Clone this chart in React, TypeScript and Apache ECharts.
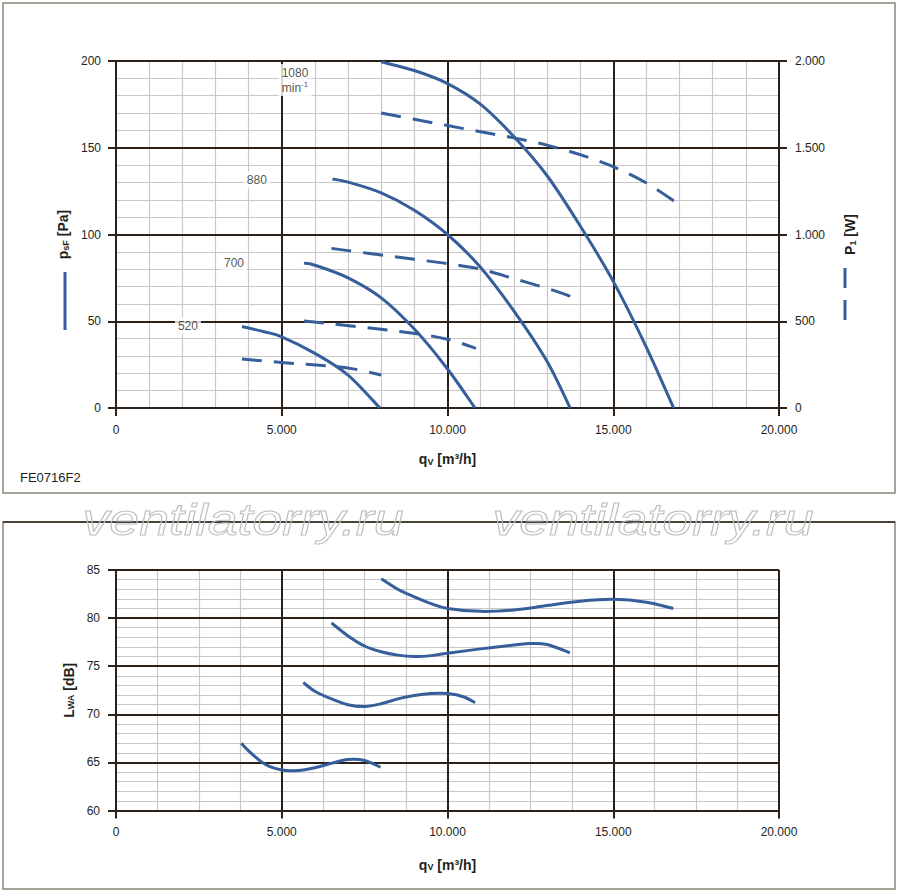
import React, { useEffect, useRef } from 'react';
import * as echarts from 'echarts';

// fan curves: [q_V m³/h, value]
const psf1080 = [[8000, 199.5], [9000, 194.5], [10000, 187], [11000, 175], [12000, 156.5], [13000, 134], [14000, 105], [15000, 73], [16000, 35], [16820, 0]];
const psf880 = [[6530, 132], [7000, 130.2], [8000, 124], [9000, 114], [10000, 100], [11000, 81], [12000, 56], [13000, 27], [13700, 0]];
const psf700 = [[5670, 83.5], [6000, 82.3], [7000, 75], [8000, 63.5], [9000, 45.5], [10000, 22.5], [10830, 0]];
const psf520 = [[3800, 47], [4500, 43.8], [5000, 41], [6000, 31.5], [7000, 19], [7960, 0]];

const pw1080 = [[8000, 1700], [9000, 1664], [10000, 1628], [11000, 1592], [12000, 1557], [13000, 1515], [14000, 1460], [15000, 1391], [16000, 1297], [16860, 1189]];
const pw880 = [[6500, 920], [7000, 907], [8000, 882], [9000, 857], [10000, 832], [11000, 800], [12000, 746], [13000, 690], [13750, 642]];
const pw700 = [[5670, 501], [6500, 485], [7500, 464], [8500, 442], [9500, 416], [10200, 386], [10860, 344]];
const pw520 = [[3800, 282], [4500, 270], [5500, 255], [6500, 241], [7200, 224], [8000, 190]];

const lwa1080 = [[8000, 84.1], [8500, 83.0], [9000, 82.2], [9500, 81.5], [10000, 81.0], [11000, 80.7], [12000, 80.85], [13000, 81.3], [14000, 81.75], [15000, 81.95], [16000, 81.65], [16810, 81.0]];
const lwa880 = [[6500, 79.5], [7000, 78.15], [7500, 77.1], [8000, 76.5], [8500, 76.15], [9000, 76.0], [9500, 76.1], [10000, 76.35], [11000, 76.8], [12000, 77.2], [12500, 77.35], [13000, 77.25], [13690, 76.4]];
const lwa700 = [[5650, 73.3], [6000, 72.4], [6500, 71.6], [7000, 71.0], [7500, 70.8], [8000, 71.1], [8500, 71.6], [9000, 71.95], [9500, 72.15], [10000, 72.15], [10500, 71.8], [10830, 71.2]];
const lwa520 = [[3780, 67], [4000, 66.2], [4500, 64.8], [5000, 64.2], [5500, 64.15], [6000, 64.45], [6500, 64.9], [7000, 65.3], [7500, 65.2], [7980, 64.5]];

const speedNames = ['1080\nmin{sup|-1}', '880', '700', '520'];
const speedLabelPos = [[5400, 189], [4250, 131.4], [3560, 83.6], [2170, 47.3]];

const FONT = '"Liberation Sans", Arial, sans-serif';
const DARK = '#2b2118';
const MINOR = '#c8c8c8';
const TXT = '#231f20';
const BLUE = '#355e9b';
const FRAME = '#8c877c';

const dots = (v: number) => String(v).replace(/\B(?=(\d{3})+(?!\d))/g, '.');

// Catmull-Rom through the pixel points, as cubic beziers
const curvePath = (pts: number[][]) => {
  let d = `M${pts[0][0]},${pts[0][1]}`;
  for (let i = 0; i < pts.length - 1; i++) {
    const p0 = pts[Math.max(i - 1, 0)];
    const p1 = pts[i];
    const p2 = pts[i + 1];
    const p3 = pts[Math.min(i + 2, pts.length - 1)];
    const c1x = p1[0] + (p2[0] - p0[0]) / 6;
    const c1y = p1[1] + (p2[1] - p0[1]) / 6;
    const c2x = p2[0] - (p3[0] - p1[0]) / 6;
    const c2y = p2[1] - (p3[1] - p1[1]) / 6;
    d += ` C${c1x},${c1y} ${c2x},${c2y} ${p2[0]},${p2[1]}`;
  }
  return d;
};

const nameRich = {
  b: { fontWeight: 'bold', fontSize: 14, color: TXT, fontFamily: FONT, lineHeight: 20, verticalAlign: 'bottom' },
  s: { fontWeight: 'bold', fontSize: 9, color: TXT, fontFamily: FONT, lineHeight: 10, verticalAlign: 'bottom' },
};

const minorAxis = (gridIndex: number, position: string, min: number, max: number, interval: number, split: number) => ({
  gridIndex, position, type: 'value', min, max, interval, z: 0,
  axisLine: { show: false }, axisTick: { show: false }, axisLabel: { show: false },
  splitLine: { show: false },
  minorTick: { show: false, splitNumber: split },
  minorSplitLine: { show: true, lineStyle: { color: MINOR, width: 1.2 } },
});

const majorAxis = (gridIndex: number, position: string, min: number, max: number, interval: number, fmt: (v: number) => string) => ({
  gridIndex, position, type: 'value', min, max, interval, z: 1,
  axisLine: { show: true, onZero: false, lineStyle: { color: DARK, width: 2 } },
  axisTick: { show: true, length: 8, lineStyle: { color: DARK, width: 2 } },
  axisLabel: { margin: 16, color: TXT, fontSize: 12, fontFamily: FONT, formatter: fmt },
  splitLine: { show: true, lineStyle: { color: DARK, width: 2 } },
});

const App: React.FC = () => {
  const chartRef = useRef<HTMLDivElement>(null);

  useEffect(() => {
    document.body.style.margin = '0';
    if (!chartRef.current) return;
    const chart = echarts.init(chartRef.current, undefined, { renderer: 'svg' });

    const curve = (data: number[][], x: number, y: number, dash?: number[]) => ({
      type: 'custom', coordinateSystem: 'cartesian2d', xAxisIndex: x, yAxisIndex: y,
      data, encode: { x: 0, y: 1 }, silent: true, z: 3, clip: false,
      renderItem: (params: any, api: any) => {
        if (params.dataIndex !== 0) return null;
        const pts = data.map((p) => api.coord(p));
        return {
          type: 'path',
          shape: { pathData: curvePath(pts) },
          style: { fill: 'none', stroke: BLUE, lineWidth: 3, lineDash: dash || null, lineCap: 'butt' },
        };
      },
    });

    const option: any = {
      animation: false,
      textStyle: { fontFamily: FONT },
      grid: [
        { left: 116, top: 61, width: 663, height: 347 },
        { left: 116, top: 570, width: 663, height: 240.5 },
      ],
      xAxis: [
        minorAxis(0, 'bottom', 0, 20000, 5000, 5),
        {
          ...majorAxis(0, 'bottom', 0, 20000, 5000, dots),
          name: '{b|q}{s|V}{b| [m³/h]}', nameLocation: 'middle', nameGap: 38,
          nameTextStyle: { rich: nameRich },
        },
        minorAxis(1, 'bottom', 0, 20000, 5000, 4),
        {
          ...majorAxis(1, 'bottom', 0, 20000, 5000, dots),
          axisLabel: { margin: 15, color: TXT, fontSize: 12, fontFamily: FONT, formatter: dots },
          name: '{b|q}{s|V}{b| [m³/h]}', nameLocation: 'middle', nameGap: 41,
          nameTextStyle: { rich: nameRich },
        },
      ],
      yAxis: [
        minorAxis(0, 'left', 0, 200, 50, 5),
        {
          ...majorAxis(0, 'left', 0, 200, 50, (v: number) => String(v)),
          axisLabel: { margin: 15, color: TXT, fontSize: 12, fontFamily: FONT },
          name: '{b|p}{s|sF}{b| [Pa]}', nameLocation: 'middle', nameGap: 45, nameRotate: 90,
          nameTextStyle: { rich: nameRich },
        },
        {
          ...majorAxis(0, 'right', 0, 2000, 500, dots),
          splitLine: { show: false },
          name: '{b|P}{s|1}{b| [W]}', nameLocation: 'middle', nameGap: 58, nameRotate: 90,
          nameTextStyle: { rich: nameRich },
        },
        minorAxis(1, 'left', 60, 85, 5, 5),
        {
          ...majorAxis(1, 'left', 60, 85, 5, (v: number) => String(v)),
          name: '{b|L}{s|WA}{b| [dB]}', nameLocation: 'middle', nameGap: 40, nameRotate: 90,
          nameTextStyle: { rich: nameRich },
        },
      ],
      series: [
        curve(psf1080, 1, 1),
        curve(psf880, 1, 1),
        curve(psf700, 1, 1),
        curve(psf520, 1, 1),
        curve(pw1080, 1, 2, [20, 12]),
        curve(pw880, 1, 2, [20, 12]),
        curve(pw700, 1, 2, [20, 12]),
        curve(pw520, 1, 2, [20, 12]),
        curve(lwa1080, 3, 4),
        curve(lwa880, 3, 4),
        curve(lwa700, 3, 4),
        curve(lwa520, 3, 4),
        {
          type: 'scatter', xAxisIndex: 1, yAxisIndex: 1, symbolSize: 0, silent: true, z: 4,
          data: speedLabelPos.map((p, i) => ({ value: p, name: speedNames[i] })),
          label: {
            show: true, position: 'inside', formatter: (p: any) => p.name,
            color: TXT, fontSize: 12, fontFamily: FONT, lineHeight: 15,
            backgroundColor: '#fff', padding: [1, 3], align: 'center',
            rich: { sup: { fontSize: 8, verticalAlign: 'top', color: TXT, fontFamily: FONT, lineHeight: 12 } },
          },
        },
      ],
      graphic: [
        { type: 'rect', shape: { x: 3, y: 3, width: 892, height: 490 }, style: { fill: 'none', stroke: FRAME, lineWidth: 1.5 }, silent: true },
        { type: 'rect', shape: { x: 3, y: 522, width: 892, height: 367 }, style: { fill: 'none', stroke: FRAME, lineWidth: 1.5 }, silent: true },
        { type: 'line', shape: { x1: 3, y1: 522, x2: 895, y2: 522 }, style: { stroke: DARK, lineWidth: 1.5 }, silent: true },
        { type: 'text', x: 20, y: 477, style: { text: 'FE0716F2', font: `13px ${FONT}`, fill: TXT, verticalAlign: 'middle' }, silent: true },
        { type: 'line', shape: { x1: 65, y1: 272, x2: 65, y2: 330 }, style: { stroke: BLUE, lineWidth: 3 }, silent: true },
        { type: 'line', shape: { x1: 845, y1: 268, x2: 845, y2: 330 }, style: { stroke: BLUE, lineWidth: 3, lineDash: [20, 12] }, silent: true },
        ...[243, 653].map((cx) => ({
          type: 'text', x: cx, y: 520, scaleX: 1.22, z: 20, silent: true,
          style: {
            text: 'ventilatorry.ru', font: `italic 44px ${FONT}`, fill: 'none',
            stroke: '#bdbdbd', lineWidth: 1, align: 'center', verticalAlign: 'middle',
          },
        })),
      ],
    };

    chart.setOption(option);
    return () => chart.dispose();
  }, []);

  return <div ref={chartRef} style={{ width: 900, height: 892 }} />;
};

export default App;
